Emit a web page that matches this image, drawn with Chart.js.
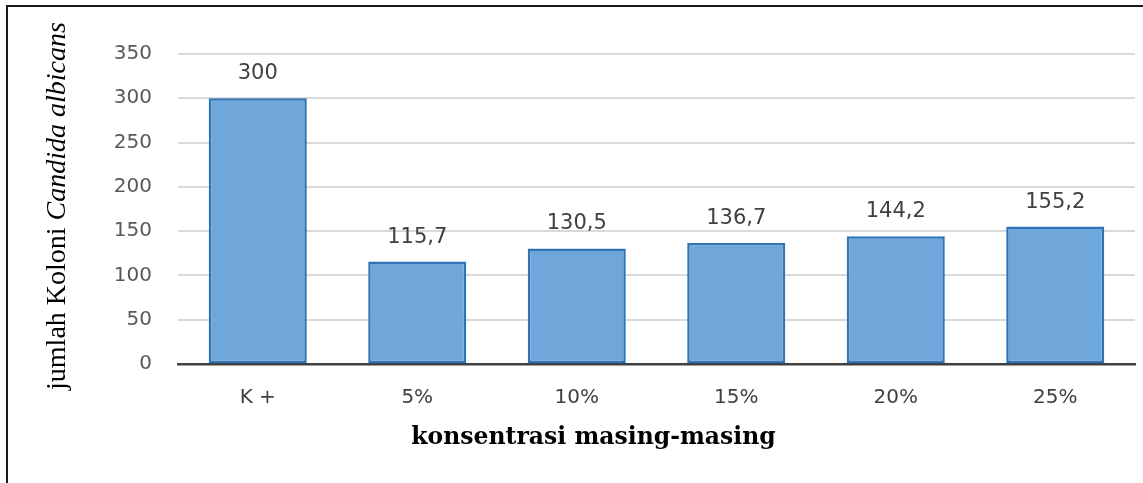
<!DOCTYPE html>
<html>
<head>
<meta charset="utf-8">
<script src="https://cdn.jsdelivr.net/npm/chart.js@4"></script>
<style>
  html, body { margin: 0; padding: 0; background: #fff; }
  canvas { display: block; }
</style>
</head>
<body>
<canvas id="koloniChart" width="1143" height="483"></canvas>
<script>
// data
const kategori = ['K +', '5%', '10%', '15%', '20%', '25%'];
const jumlahKoloni = [300, 115.7, 130.5, 136.7, 144.2, 155.2];
const yTicks = [0, 50, 100, 150, 200, 250, 300, 350];

const judulX = 'konsentrasi masing-masing';
const judulYBiasa = 'jumlah Koloni ';
const judulYMiring = 'Candida albicans';

// angka pakai koma desimal
function formatAngka(v) {
    return Number.isInteger(v) ? String(v) : v.toFixed(1).replace('.', ',');
}

// bingkai luar (garis atas & kiri)
const bingkai = {
    id: 'bingkai',
    beforeDraw(chart) {
        const c = chart.ctx;
        c.save();
        c.fillStyle = '#fff';
        c.fillRect(0, 0, chart.width, chart.height);
        c.strokeStyle = '#1a1a1a';
        c.lineWidth = 2;
        c.beginPath();
        c.moveTo(7, chart.height);
        c.lineTo(7, 6);
        c.lineTo(chart.width, 6);
        c.stroke();
        c.restore();
    }
};

// label nilai di atas batang
const labelNilai = {
    id: 'labelNilai',
    afterDatasetsDraw(chart) {
        const c = chart.ctx;
        const meta = chart.getDatasetMeta(0);
        c.save();
        c.font = '21px "DejaVu Sans"';
        c.fillStyle = '#404040';
        c.textAlign = 'center';
        c.textBaseline = 'alphabetic';
        meta.data.forEach((bar, i) => {
            c.fillText(formatAngka(jumlahKoloni[i]), bar.x, bar.y - 19);
        });
        c.restore();
    }
};

// judul sumbu (sumbu Y campuran tegak + miring)
const judulSumbu = {
    id: 'judulSumbu',
    afterDraw(chart) {
        const c = chart.ctx;
        const area = chart.chartArea;
        c.save();
        c.fillStyle = '#000';
        c.textBaseline = 'alphabetic';

        // judul X
        c.font = 'bold 23.5px "DejaVu Serif"';
        c.textAlign = 'center';
        c.fillText(judulX, (area.left + area.right) / 2 - 63, area.bottom + 80);

        // judul Y
        const fBiasa = '28px "Liberation Serif"';
        const fMiring = 'italic 28px "Liberation Serif"';
        c.font = fBiasa;
        const w1 = c.measureText(judulYBiasa).width;
        c.font = fMiring;
        const w2 = c.measureText(judulYMiring).width;
        const tengah = (area.top + area.bottom) / 2 - 3;
        c.translate(65, tengah + (w1 + w2) / 2);
        c.rotate(-Math.PI / 2);
        c.textAlign = 'left';
        c.font = fBiasa;
        c.fillText(judulYBiasa, 0, 0);
        c.font = fMiring;
        c.fillText(judulYMiring, w1, 0);
        c.restore();
    }
};

Chart.defaults.font.family = '"DejaVu Sans"';

const ctx = document.getElementById('koloniChart').getContext('2d');
const koloniChart = new Chart(ctx, {
    type: 'bar',
    data: {
        labels: kategori,
        datasets: [{
            data: jumlahKoloni,
            backgroundColor: '#70A7DB',
            borderColor: '#2E75B6',
            borderWidth: 2.5,
            borderSkipped: false,
            categoryPercentage: 0.615,
            barPercentage: 1
        }]
    },
    options: {
        responsive: false,
        animation: false,
        devicePixelRatio: 1,
        layout: { padding: { left: 88, top: 54, right: 8, bottom: 0 } },
        plugins: {
            legend: { display: false },
            tooltip: { enabled: false }
        },
        scales: {
            x: {
                grid: { display: false, drawTicks: false },
                border: { display: true, color: '#404040', width: 2.5 },
                ticks: { color: '#404040', font: { size: 20 }, padding: 22 },
                afterFit: s => { s.height = 119; }
            },
            y: {
                min: yTicks[0],
                max: yTicks[yTicks.length - 1],
                grid: { color: '#d9d9d9', lineWidth: 2, drawTicks: false },
                border: { display: false },
                ticks: {
                    stepSize: yTicks[1] - yTicks[0],
                    color: '#595959',
                    font: { size: 20 },
                    padding: 26
                },
                afterFit: s => { s.width = 90; }
            }
        }
    },
    plugins: [bingkai, labelNilai, judulSumbu]
});
</script>
</body>
</html>
